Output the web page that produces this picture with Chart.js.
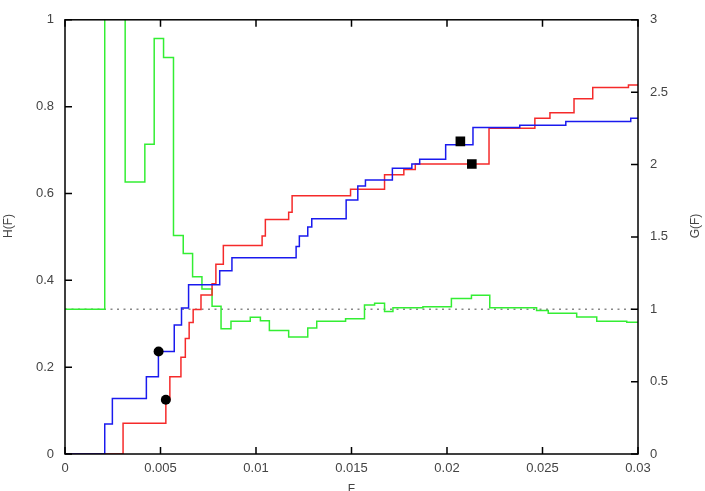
<!DOCTYPE html>
<html>
<head>
<meta charset="utf-8">
<script src="https://cdn.jsdelivr.net/npm/chart.js@4/dist/chart.umd.min.js"></script>
<style>
  html, body { margin: 0; padding: 0; background: #fff; }
  #wrap { width: 705px; height: 491px; }
</style>
</head>
<body>
<div id="wrap"><canvas id="c"></canvas></div>
<script>
// H(F) curves (left axis), step points: value holds from x onwards
const blueX = [0, 0.00208, 0.00248, 0.00426, 0.00489, 0.00572, 0.0061, 0.00647, 0.0081, 0.00874, 0.0121, 0.01227, 0.01271, 0.01292, 0.01472, 0.01533, 0.01573, 0.01714, 0.01816, 0.01857, 0.01993, 0.02136, 0.02381, 0.02622, 0.02962, 0.03];
const blueY = [0, 0.069, 0.128, 0.178, 0.236, 0.297, 0.336, 0.390, 0.422, 0.452, 0.478, 0.502, 0.523, 0.542, 0.585, 0.617, 0.631, 0.658, 0.668, 0.679, 0.712, 0.752, 0.757, 0.766, 0.773, 0.773];

const redX = [0, 0.00304, 0.00528, 0.00549, 0.00607, 0.0063, 0.0065, 0.00671, 0.00712, 0.0077, 0.0079, 0.00829, 0.01032, 0.01049, 0.01171, 0.01189, 0.01495, 0.01673, 0.01774, 0.01834, 0.0222, 0.0246, 0.02539, 0.02665, 0.02763, 0.0295, 0.03];
const redY = [0, 0.071, 0.125, 0.178, 0.223, 0.266, 0.303, 0.333, 0.366, 0.392, 0.437, 0.480, 0.502, 0.540, 0.557, 0.595, 0.610, 0.643, 0.655, 0.668, 0.750, 0.773, 0.786, 0.818, 0.844, 0.850, 0.850];

// G(F) curve (right axis)
const greenX = [0, 0.00208, 0.00315, 0.00418, 0.00467, 0.00516, 0.00568, 0.00619, 0.00668, 0.00717, 0.0077, 0.00817, 0.00869, 0.0097, 0.01023, 0.0107, 0.01171, 0.01271, 0.01318, 0.01469, 0.01568, 0.01621, 0.01673, 0.01717, 0.01874, 0.02023, 0.02128, 0.02224, 0.02469, 0.0253, 0.02679, 0.02784, 0.02941, 0.03];
const greenY = [1.0, 3.6, 1.88, 2.14, 2.87, 2.74, 1.51, 1.385, 1.225, 1.14, 1.02, 0.865, 0.917, 0.944, 0.921, 0.853, 0.809, 0.87, 0.917, 0.935, 1.029, 1.041, 0.985, 1.011, 1.018, 1.074, 1.097, 1.011, 0.991, 0.973, 0.946, 0.917, 0.91, 0.91];

// reference level H = 1/3
const refX = [0, 0.03];
const refY = [1 / 3, 1 / 3];

// black markers
const circleX = [0.0049, 0.00528];
const circleY = [0.236, 0.125];
const squareX = [0.0207, 0.0213];
const squareY = [0.72, 0.668];

const xTicks = [0, 0.005, 0.01, 0.015, 0.02, 0.025, 0.03];
const xTickLabels = ["0", "0.005", "0.01", "0.015", "0.02", "0.025", "0.03"];
const hTicks = [0, 0.2, 0.4, 0.6, 0.8, 1];
const hTickLabels = ["0", "0.2", "0.4", "0.6", "0.8", "1"];
const gTicks = [0, 0.5, 1, 1.5, 2, 2.5, 3];
const gTickLabels = ["0", "0.5", "1", "1.5", "2", "2.5", "3"];

function pts(xs, ys) {
  return xs.map((x, i) => ({ x: x, y: ys[i] }));
}

const FONT = '"Liberation Sans", Arial, sans-serif';
const TXT = '#444';

// gnuplot-like frame, inward ticks and axis titles
const framePlugin = {
  id: 'frame',
  afterDatasetsDraw(chart) {
    const { ctx, chartArea: a, scales } = chart;
    ctx.save();
    ctx.strokeStyle = '#000';
    ctx.lineWidth = 1.5;
    ctx.beginPath();
    xTicks.forEach(v => {
      const px = scales.x.getPixelForValue(v);
      ctx.moveTo(px, a.bottom); ctx.lineTo(px, a.bottom - 7);
      ctx.moveTo(px, a.top); ctx.lineTo(px, a.top + 7);
    });
    hTicks.forEach(v => {
      const py = scales.h.getPixelForValue(v);
      ctx.moveTo(a.left, py); ctx.lineTo(a.left + 7, py);
    });
    gTicks.forEach(v => {
      const py = scales.g.getPixelForValue(v);
      ctx.moveTo(a.right, py); ctx.lineTo(a.right - 7, py);
    });
    ctx.stroke();
    ctx.strokeRect(a.left, a.top, a.right - a.left, a.bottom - a.top);

    ctx.fillStyle = TXT;
    ctx.font = '12px ' + FONT;
    ctx.textAlign = 'center';
    ctx.textBaseline = 'middle';
    ctx.fillText('F', (a.left + a.right) / 2, 490);
    ctx.translate(9, 226);
    ctx.rotate(-Math.PI / 2);
    ctx.fillText('H(F)', 0, 0);
    ctx.restore();
    ctx.save();
    ctx.fillStyle = TXT;
    ctx.font = '12px ' + FONT;
    ctx.textAlign = 'center';
    ctx.textBaseline = 'middle';
    ctx.translate(696, 226);
    ctx.rotate(-Math.PI / 2);
    ctx.fillText('G(F)', 0, 0);
    ctx.restore();
  }
};

const tickFont = { family: FONT, size: 13 };

new Chart(document.getElementById('c'), {
  type: 'line',
  data: {
    datasets: [
      { type: 'scatter', data: pts(circleX, circleY), yAxisID: 'h', pointStyle: 'circle', pointRadius: 5, backgroundColor: '#000', borderColor: '#000', borderWidth: 0, order: 0 },
      { type: 'scatter', data: pts(squareX, squareY), yAxisID: 'h', pointStyle: 'rect', pointRadius: 6.8, backgroundColor: '#000', borderColor: '#000', borderWidth: 0, order: 0 },
      { data: pts(blueX, blueY), yAxisID: 'h', stepped: true, borderColor: '#1a1aee', borderWidth: 1.5, pointRadius: 0, fill: false, order: 1 },
      { data: pts(redX, redY), yAxisID: 'h', stepped: true, borderColor: '#f52a2a', borderWidth: 1.5, pointRadius: 0, fill: false, order: 2 },
      { data: pts(greenX, greenY), yAxisID: 'g', stepped: true, borderColor: '#33ee33', borderWidth: 1.5, pointRadius: 0, fill: false, order: 3 },
      { data: pts(refX, refY), yAxisID: 'h', borderColor: '#888', borderWidth: 1.5, borderDash: [2, 4.5], pointRadius: 0, fill: false, order: 4 }
    ]
  },
  options: {
    responsive: true,
    maintainAspectRatio: false,
    animation: false,
    layout: { padding: { top: 10, left: 0, right: 0, bottom: 0 } },
    plugins: { legend: { display: false }, tooltip: { enabled: false } },
    scales: {
      x: {
        type: 'linear', min: 0, max: 0.03,
        afterBuildTicks: s => { s.ticks = xTicks.map(v => ({ value: v })); },
        afterFit: s => { s.height = 37; },
        grid: { display: false, drawTicks: false },
        border: { display: false },
        ticks: { autoSkip: false, maxRotation: 0, padding: 7, color: TXT, font: tickFont, callback: (v, i) => xTickLabels[i] }
      },
      h: {
        type: 'linear', position: 'left', min: 0, max: 1,
        afterBuildTicks: s => { s.ticks = hTicks.map(v => ({ value: v })); },
        afterFit: s => { s.width = 65; },
        grid: { display: false, drawTicks: false },
        border: { display: false },
        ticks: { padding: 11, color: TXT, font: tickFont, callback: (v, i) => hTickLabels[i] }
      },
      g: {
        type: 'linear', position: 'right', min: 0, max: 3,
        afterBuildTicks: s => { s.ticks = gTicks.map(v => ({ value: v })); },
        afterFit: s => { s.width = 67; },
        grid: { display: false, drawTicks: false },
        border: { display: false },
        ticks: { padding: 12, color: TXT, font: tickFont, callback: (v, i) => gTickLabels[i] }
      }
    }
  },
  plugins: [framePlugin]
});
</script>
</body>
</html>
